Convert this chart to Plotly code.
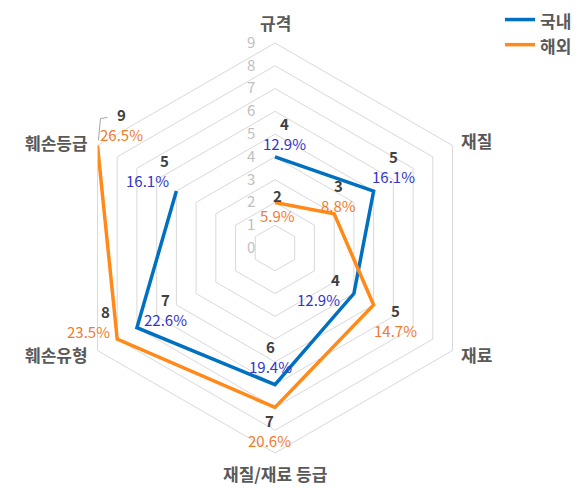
import math
import plotly.graph_objects as go

categories = ["규격", "재질", "재료", "재질/재료 등급", "훼손유형", "훼손등급"]
domestic = [4, 5, 4, 6, 7, 5]
domestic_pct = ["12.9%", "16.1%", "12.9%", "19.4%", "22.6%", "16.1%"]
overseas = [2, 3, 5, 7, 8, 9]
overseas_pct = ["5.9%", "8.8%", "14.7%", "20.6%", "23.5%", "26.5%"]
radial_ticks = list(range(0, 10))
r_max = 9

BLUE = "#0070C0"
ORANGE = "#FF8A1A"
BLUE_TXT = "#3535C8"
ORANGE_TXT = "#F07C30"
DARK = "#404040"
CAT = "#595959"
GRID = "#D9D9D9"
LEADER = "#A6A6A6"
FONT = "Noto Sans CJK KR"

OFF = 8  # page body margin
W, H = 579 - OFF, 489 - OFF
X_DOM = [(70 - OFF) / W, (480 - OFF) / W]
Y_DOM = [1 - (453 - OFF) / H, 1 - (43 - OFF) / H]

# label placement styles: (xanchor, xshift, yshift)
blue_lbl_pos = [("center", 9, 23), ("center", 20, 25), ("right", -12, 4),
                ("center", -5, 28), ("center", 29, 18), ("right", -5, 21)]
orange_lbl_pos = [("center", 2, -3), ("center", 4, 18), ("center", 22, -16),
                  ("center", -6, -23), ("right", -5, 18), ("center", 24, 21)]
cat_lbl_pos = [("center", 0, 21), ("left", 6, 5), ("left", 6, -4),
               ("center", 0, -20), ("right", -7, -4), ("right", -7, 3)]
# leader-line pixel paths (relative to the data point, screen y down)
blue_leaders = {3: "M-2,-4 L-8,-16", 4: "M2,-5 L10,-25 L16,-25"}
orange_leaders = {2: "M1,1 L3,6 L8,6", 4: "M-1,-5 L-4,-28 L-11,-28",
                  5: "M1,-5 L3,-27 L10,-28"}


def angle(i):
    return math.radians(90 - 360 / len(categories) * i)


def to_xy(r, i):
    a = angle(i)
    return r * math.cos(a), r * math.sin(a)


def flip(path):
    out = []
    for tok in path.split():
        cmd = tok[0]
        x, y = tok[1:].split(",")
        out.append(f"{cmd}{x},{-float(y)}")
    return " ".join(out)


fig = go.Figure()
fig.add_trace(go.Scatterpolar(
    r=domestic, theta=categories, name="국내",
    mode="lines", fill="toself", fillcolor="rgba(0,0,0,0)",
    line=dict(color=BLUE, width=3.5), hoverinfo="skip",
))
fig.add_trace(go.Scatterpolar(
    r=overseas, theta=categories, name="해외",
    mode="lines", fill="toself", fillcolor="rgba(0,0,0,0)",
    line=dict(color=ORANGE, width=3.5), hoverinfo="skip",
))

annotations = []
shapes = []
for vals, pcts, col, pos, leaders in [
        (domestic, domestic_pct, BLUE_TXT, blue_lbl_pos, blue_leaders),
        (overseas, overseas_pct, ORANGE_TXT, orange_lbl_pos, orange_leaders)]:
    for i, (v, p) in enumerate(zip(vals, pcts)):
        x, y = to_xy(v, i)
        xa, xs, ys = pos[i]
        annotations.append(dict(
            x=x, y=y, xref="x", yref="y", showarrow=False,
            text=f"<b>{v}</b><br><span style='color:{col}'>{p}</span>",
            font=dict(family=FONT, size=15, color=DARK),
            align="right" if xa == "right" else "center",
            xanchor=xa, yanchor="middle", xshift=xs, yshift=ys,
        ))
        if i in leaders:
            shapes.append(dict(
                type="path", xref="x", yref="y",
                xsizemode="pixel", ysizemode="pixel", xanchor=x, yanchor=y,
                path=flip(leaders[i]), line=dict(color=LEADER, width=1),
                layer="below",
            ))

for i, c in enumerate(categories):
    x, y = to_xy(r_max, i)
    xa, xs, ys = cat_lbl_pos[i]
    annotations.append(dict(
        x=x, y=y, xref="x", yref="y", showarrow=False, text=c,
        font=dict(family=FONT, size=17, color=CAT, weight="bold"),
        xanchor=xa, yanchor="middle", xshift=xs, yshift=ys,
    ))

fig.update_layout(
    width=W, height=H,
    margin=dict(l=0, r=0, t=0, b=0, autoexpand=False),
    paper_bgcolor="white", plot_bgcolor="rgba(0,0,0,0)",
    font=dict(family=FONT),
    xaxis=dict(domain=X_DOM, range=[-r_max, r_max], visible=False, fixedrange=True),
    yaxis=dict(domain=Y_DOM, range=[-r_max, r_max], visible=False, fixedrange=True),
    polar=dict(
        domain=dict(x=X_DOM, y=Y_DOM),
        bgcolor="white",
        gridshape="linear",
        radialaxis=dict(
            range=[0, r_max], tickvals=radial_ticks, showline=False,
            ticks="outside", ticklen=14, tickcolor="rgba(0,0,0,0)",
            gridcolor=GRID, gridwidth=1, angle=90, tickangle=90,
            side="counterclockwise",
            tickfont=dict(family=FONT, size=15, color="#BFBFBF"),
        ),
        angularaxis=dict(
            direction="clockwise", rotation=90, showgrid=False,
            showline=True, linecolor=GRID, linewidth=1, ticks="",
            showticklabels=False,
        ),
    ),
    annotations=annotations,
    shapes=shapes,
    legend=dict(
        x=(500 - OFF) / W, y=1 + 4 / H, xanchor="left", yanchor="top",
        font=dict(family=FONT, size=17, color=CAT, weight="bold"),
        bgcolor="rgba(0,0,0,0)", tracegroupgap=0,
    ),
)

fig.write_html("out.html")
